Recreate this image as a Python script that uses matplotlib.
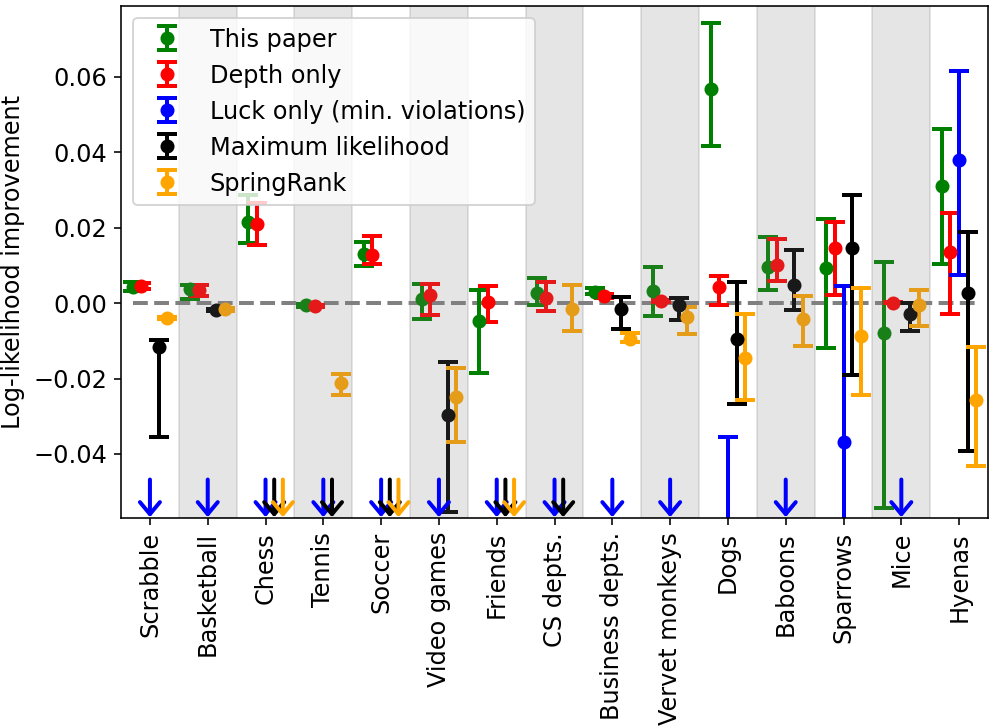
import numpy as np
import matplotlib
matplotlib.use("Agg")
import matplotlib.pyplot as plt

plt.rcParams["font.size"] = 12

nan = np.nan

categories = ["Scrabble", "Basketball", "Chess", "Tennis", "Soccer", "Video games",
              "Friends", "CS depts.", "Business depts.", "Vervet monkeys", "Dogs",
              "Baboons", "Sparrows", "Mice", "Hyenas"]

labels = ["This paper", "Depth only", "Luck only (min. violations)",
          "Maximum likelihood", "SpringRank"]
colors = ["green", "red", "blue", "black", "orange"]

# point estimate, lower end, upper end of the interval (nan = below the plotted range)
this_paper = [0.0044, 0.0038, 0.0216, -0.0006, 0.0130, 0.0012, -0.0047, 0.0028,
              0.0029, 0.0031, 0.0568, 0.0096, 0.0092, -0.0080, 0.0310]
this_paper_lo = [0.0031, 0.0012, 0.0160, -0.0009, 0.0099, -0.0041, -0.0185, -0.0005,
                 0.0023, -0.0034, 0.0416, 0.0036, -0.0120, -0.0543, 0.0105]
this_paper_hi = [0.0057, 0.0047, 0.0287, -0.0003, 0.0163, 0.0052, 0.0036, 0.0067,
                 0.0039, 0.0096, 0.0742, 0.0176, 0.0223, 0.0110, 0.0463]

depth = [0.0045, 0.0034, 0.0210, -0.0008, 0.0128, 0.0021, 0.0002, 0.0014,
         0.0019, 0.0005, 0.0043, 0.0101, 0.0145, 0.0001, 0.0136]
depth_lo = [0.0038, 0.0019, 0.0155, -0.0011, 0.0105, -0.0032, -0.0050, -0.0020,
            0.0013, 0.0002, -0.0005, 0.0058, 0.0021, -0.0001, -0.0030]
depth_hi = [0.0053, 0.0048, 0.0265, -0.0005, 0.0178, 0.0052, 0.0046, 0.0055,
            0.0025, 0.0008, 0.0072, 0.0169, 0.0216, 0.0003, 0.0238]

luck = [nan, nan, nan, nan, nan, nan, nan, nan,
        nan, nan, -0.0700, nan, -0.0368, nan, 0.0379]
luck_lo = [nan, nan, nan, nan, nan, nan, nan, nan,
           nan, nan, -0.1000, nan, -0.0750, nan, 0.0074]
luck_hi = [nan, nan, nan, nan, nan, nan, nan, nan,
           nan, nan, -0.0355, nan, 0.0046, nan, 0.0616]

max_lik = [-0.0116, -0.0019, nan, nan, nan, -0.0297, nan, nan,
           -0.0015, -0.0004, -0.0096, 0.0048, 0.0145, -0.0029, 0.0027]
max_lik_lo = [-0.0355, -0.0022, nan, nan, nan, -0.0553, nan, nan,
              -0.0068, -0.0045, -0.0268, -0.0019, -0.0191, -0.0074, -0.0393]
max_lik_hi = [-0.0098, -0.0016, nan, nan, nan, -0.0157, nan, nan,
              0.0015, 0.0014, 0.0056, 0.0141, 0.0288, 0.0001, 0.0188]

spring = [-0.0039, -0.0016, nan, -0.0211, nan, -0.0248, nan, -0.0016,
          -0.0094, -0.0036, -0.0145, -0.0043, -0.0087, -0.0004, -0.0257]
spring_lo = [-0.0042, -0.0020, nan, -0.0244, nan, -0.0368, nan, -0.0073,
             -0.0104, -0.0083, -0.0257, -0.0113, -0.0244, -0.0061, -0.0431]
spring_hi = [-0.0036, -0.0012, nan, -0.0187, nan, -0.0173, nan, 0.0048,
             -0.0080, -0.0010, -0.0029, 0.0019, 0.0041, 0.0036, -0.0116]

series = [(this_paper, this_paper_lo, this_paper_hi),
          (depth, depth_lo, depth_hi),
          (luck, luck_lo, luck_hi),
          (max_lik, max_lik_lo, max_lik_hi),
          (spring, spring_lo, spring_hi)]

ymin, ymax = -0.0570, 0.0788
d = 0.15
x = np.arange(len(categories))

fig = plt.figure(figsize=(997 / 144, 726 / 144), dpi=144)
ax = fig.add_axes([0.1214, 0.2865, 0.991 - 0.1214, 0.9917 - 0.2865])

ax.plot([x[0] - 2 * d, x[-1] + 2 * d], [0, 0], "--", color="gray", lw=2, zorder=1)

for k, (vals, lo, hi) in enumerate(series):
    vals = np.array(vals)
    lo = np.array(lo)
    hi = np.array(hi)
    xs = x + (k - 2) * d
    err = [vals - lo, hi - vals]
    ax.errorbar(xs, vals, yerr=err, fmt="o", color=colors[k], capsize=5,
                elinewidth=2, capthick=2, label=labels[k])
    # arrows for values below the visible range
    for xi, v in zip(xs, vals):
        if np.isnan(v):
            ax.annotate("", xy=(xi, ymin + 0.0002), xytext=(xi, -0.0468),
                        arrowprops=dict(arrowstyle="->,head_length=0.6,head_width=0.5",
                                        color=colors[k], lw=2, mutation_scale=10,
                                        shrinkA=0, shrinkB=0),
                        zorder=4)

for i in x:
    if i % 2 == 1:
        ax.axvspan(i - 0.5, i + 0.5, color="gray", alpha=0.2, zorder=2.5)

ax.set_xlim(-0.5, len(categories) - 0.5)
ax.set_ylim(ymin, ymax)
ax.set_xticks(x)
ax.set_xticklabels(categories, rotation=90)
ax.set_yticks([-0.04, -0.02, 0.0, 0.02, 0.04, 0.06])
ax.set_ylabel("Log-likelihood improvement")
ax.legend(loc="upper left", fontsize=12)

fig.savefig("out.png", dpi=144)
